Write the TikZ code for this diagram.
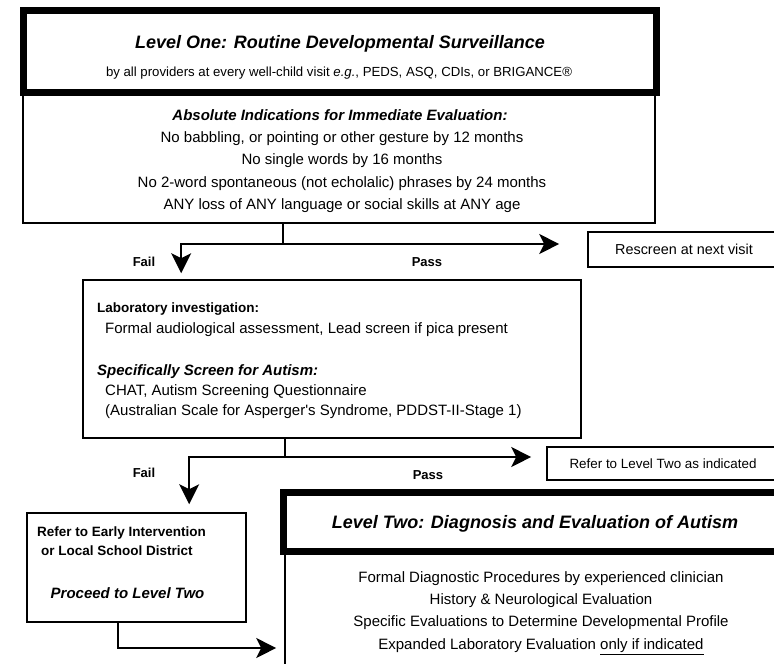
\documentclass[tikz,border=0pt]{standalone}
\usepackage{fontspec}
\setmainfont{Liberation Sans}
\usetikzlibrary{arrows.meta}

\begin{document}
\begin{tikzpicture}[x=1pt, y=-1pt,
    levelbox/.style={rectangle, draw, line width=7pt, inner sep=0pt},
    stepbox/.style={rectangle, draw, line width=1.6pt, inner sep=0pt},
    heading/.style={font=\fontsize{18}{21}\selectfont\bfseries\itshape, inner sep=0pt, text height=13pt, text depth=0pt},
    txt/.style={font=\fontsize{15}{18}\selectfont, inner sep=0pt, text height=10.7pt, text depth=0pt},
    note/.style={font=\fontsize{13.5}{16}\selectfont\bfseries, inner sep=0pt, text height=9.7pt, text depth=0pt},
    answer/.style={font=\fontsize{13}{15}\selectfont\bfseries, inner sep=0pt, text height=9.3pt, text depth=0pt},
    link/.style={line width=1.6pt},
    arrow/.style={line width=1.6pt, -{Stealth[length=20pt, width=20pt, inset=5pt]}}
]
\useasboundingbox (0,0) rectangle (774,664);
\clip (0,0) rectangle (774,664);

% Level one
\node[stepbox, minimum width=632pt, minimum height=130.5pt] (ind) at (339,157.75) {};
\node[levelbox, minimum width=633pt, minimum height=82pt] (one) at (339.5,51.5) {};
\node[heading] (onetitle) at (340,42) {Level One: Routine Developmental Surveillance};
\node[txt, font=\fontsize{13.2}{15}\selectfont, text height=9.5pt] (onesub) at (339,72)
    {by all providers at every well-child visit \textit{e.g.}, PEDS, ASQ, CDIs, or BRIGANCE®};

% Absolute indications
\node[txt, font=\fontsize{15}{18}\selectfont\bfseries\itshape] (indtitle) at (340,115)
    {Absolute Indications for Immediate Evaluation:};
\foreach \txt [count=\k] in {{No babbling, or pointing or other gesture by 12 months},
    {No single words by 16 months},
    {No 2-word spontaneous (not echolalic) phrases by 24 months},
    {ANY loss of ANY language or social skills at ANY age}} {
    \node[txt] (ind\k) at (342,115+22.3*\k) {\txt};
}

% Rescreen
\node[stepbox, txt, font=\fontsize{14.4}{17}\selectfont, minimum width=192pt, minimum height=35pt] (rescreen) at (684,249.5) {Rescreen at next visit};

% Laboratory and screening
\node[stepbox, minimum width=498pt, minimum height=158pt] (lab) at (332,359) {};
\node[note, anchor=west] (labtitle) at (97,308) {Laboratory investigation:};
\node[txt, anchor=west] (lab1) at (105,328) {Formal audiological assessment, Lead screen if pica present};
\node[txt, font=\fontsize{15}{18}\selectfont\bfseries\itshape, anchor=west] (scrtitle) at (97,370) {Specifically Screen for Autism:};
\node[txt, anchor=west] (scr1) at (105,390) {CHAT, Autism Screening Questionnaire};
\node[txt, anchor=west] (scr2) at (105,410) {(Australian Scale for Asperger\textquotesingle s Syndrome, PDDST-II-Stage 1)};

% Refer to level two
\node[stepbox, txt, font=\fontsize{13.4}{16}\selectfont, minimum width=232pt, minimum height=33pt] (refer) at (663,463.5) {Refer to Level Two as indicated};

% Early intervention
\node[stepbox, minimum width=219pt, minimum height=109pt] (ei) at (136.5,567.5) {};
\node[note, anchor=west] (ei1) at (37,532) {Refer to Early Intervention};
\node[note, anchor=west] (ei2) at (41,551) {or Local School District};
\node[txt, font=\fontsize{15}{18}\selectfont\bfseries\itshape] (ei3) at (127.5,593) {Proceed to Level Two};

% Level two
\node[stepbox, minimum width=505pt, minimum height=149pt] (twobody) at (537.5,625.5) {};
\node[levelbox, heading, minimum width=504pt, minimum height=59pt] (two) at (535,521.5) {Level Two: Diagnosis and Evaluation of Autism};
\foreach \txt [count=\k] in {{Formal Diagnostic Procedures by experienced clinician},
    {History \& Neurological Evaluation},
    {Specific Evaluations to Determine Developmental Profile},
    {Expanded Laboratory Evaluation \underline{only if indicated}}} {
    \node[txt] (two\k) at (541,577-22.3+22.3*\k) {\txt};
}

% First screen: fail / pass
\coordinate (split1) at (283,244);
\draw[link] (ind.south -| split1) -- (split1);
\draw[arrow, shorten >=6pt] (split1) -| ([xshift=99pt]lab.north west);
\draw[arrow, shorten >=28pt] (split1) -- (split1 -| rescreen.west);
\node[answer] (fail1) at (144,262) {Fail};
\node[answer] (pass1) at (427,262) {Pass};

% Second screen: fail / pass
\coordinate (split2) at (285,457);
\draw[link] (lab.south -| split2) -- (split2);
\draw[arrow, shorten >=8pt] (split2) -| ([xshift=163pt]ei.north west);
\draw[arrow, shorten >=15pt] (split2) -- (split2 -| refer.west);
\node[answer] (fail2) at (144,473) {Fail};
\node[answer] (pass2) at (428,475) {Pass};

% Early intervention on to level two
\coordinate (bend) at (118,648);
\draw[arrow, shorten >=8pt] (ei.south -| bend) -- (bend) -- (bend -| twobody.west);

\end{tikzpicture}
\end{document}
